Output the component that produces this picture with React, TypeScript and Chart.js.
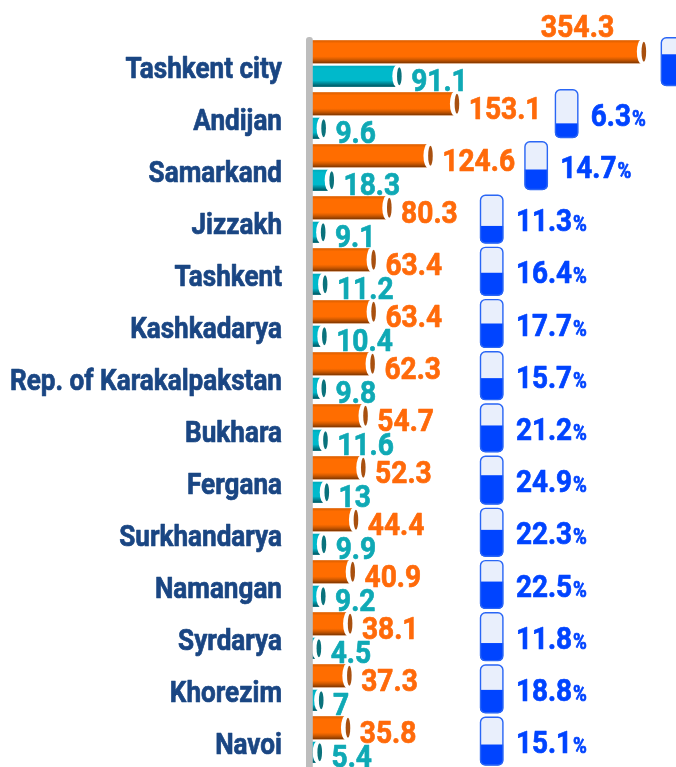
import React, { useEffect, useRef } from "react";
import { Chart, registerables } from "chart.js";

Chart.register(...registerables);

const regions = ["Tashkent city", "Andijan", "Samarkand", "Jizzakh", "Tashkent", "Kashkadarya", "Rep. of Karakalpakstan", "Bukhara", "Fergana", "Surkhandarya", "Namangan", "Syrdarya", "Khorezim", "Navoi"];
const orangeValues = [354.3, 153.1, 124.6, 80.3, 63.4, 63.4, 62.3, 54.7, 52.3, 44.4, 40.9, 38.1, 37.3, 35.8];
const tealValues = [91.1, 9.6, 18.3, 9.1, 11.2, 10.4, 9.8, 11.6, 13, 9.9, 9.2, 4.5, 7, 5.4];
const percentValues: (number | null)[] = [null, 6.3, 14.7, 11.3, 16.4, 17.7, 15.7, 21.2, 24.9, 22.3, 22.5, 11.8, 18.8, 15.1];
const batteryLevels = [0.65, 0.3, 0.42, 0.36, 0.47, 0.5, 0.45, 0.55, 0.6, 0.55, 0.56, 0.37, 0.48, 0.43];

const ORANGE = "#ff6d00";
const TEAL = "#00b9cb";
const ORANGE_TEXT = "#ff6a0a";
const TEAL_TEXT = "#0fa9b5";
const BLUE = "#0044ff";
const NAVY = "#1a4683";
const FONT = "Roboto";

function squeezed(ctx: CanvasRenderingContext2D, text: string, x: number, y: number, size: number, sx: number, align: "left" | "right" | "center", color: string) {
  ctx.save();
  ctx.font = `700 ${size}px ${FONT}`;
  ctx.fillStyle = color;
  ctx.strokeStyle = color;
  ctx.lineWidth = 0.7;
  ctx.lineJoin = "round";
  ctx.textBaseline = "alphabetic";
  ctx.textAlign = align;
  ctx.translate(x, y);
  ctx.scale(sx, 1);
  ctx.fillText(text, 0, 0);
  ctx.strokeText(text, 0, 0);
  const w = ctx.measureText(text).width * sx;
  ctx.restore();
  return w;
}

function ellipse(ctx: CanvasRenderingContext2D, x: number, y: number, rx: number, ry: number, color: string) {
  ctx.beginPath();
  ctx.ellipse(x, y, rx, ry, 0, 0, Math.PI * 2);
  ctx.fillStyle = color;
  ctx.fill();
}

const decorate = {
  id: "decorate",
  afterDatasetsDraw(chart: any) {
    const ctx: CanvasRenderingContext2D = chart.ctx;
    const { chartArea } = chart;
    const styles = [
      { cap: "#a8500f", top: "rgba(170,75,0,0.45)", bottom: "rgba(105,45,0,0.9)", text: ORANGE_TEXT },
      { cap: "#0a727c", top: "rgba(0,120,130,0.2)", bottom: "rgba(0,70,80,0.9)", text: TEAL_TEXT },
    ];
    [0, 1].forEach((d) => {
      const st = styles[d];
      chart.getDatasetMeta(d).data.forEach((bar: any, i: number) => {
        const h = bar.height;
        const top = bar.y - h / 2;
        const grad = ctx.createLinearGradient(0, top, 0, top + h);
        const clear = d === 0 ? "rgba(170,75,0,0)" : "rgba(0,70,80,0)";
        grad.addColorStop(0, st.top);
        grad.addColorStop(0.14, clear);
        grad.addColorStop(0.7, clear);
        grad.addColorStop(1, st.bottom);
        ctx.fillStyle = grad;
        ctx.fillRect(chartArea.left, top, bar.x - chartArea.left, h);
        ellipse(ctx, bar.x + 1, bar.y, 5, h / 2 + 1, "#ffffff");
        ellipse(ctx, bar.x + 3, bar.y, 2.3, h / 2 - 1.5, st.cap);
        const value = (d === 0 ? orangeValues : tealValues)[i];
        const cap = bar.x + 3;
        if (d === 0 && i === 0) {
          squeezed(ctx, String(value), 577.5, 36.5, 32, 0.89, "center", st.text);
        } else {
          squeezed(ctx, String(value), cap + 11.8, bar.y + 15, 32, 0.88, "left", st.text);
        }
      });
    });

    ctx.fillStyle = "#bdbdbd";
    ctx.beginPath();
    ctx.roundRect(306, 37, 6.8, 740, [3, 3, 0, 0]);
    ctx.fill();

    const rows = chart.getDatasetMeta(0).data;
    const gaps: Record<number, number> = { 0: 17, 1: 98, 2: 94 };
    regions.forEach((name, i) => {
      const bar = rows[i];
      const center = (bar.y + chart.getDatasetMeta(1).data[i].y) / 2;
      squeezed(ctx, name, 282, center + 13.5, 30, 0.87, "right", NAVY);

      const cap = bar.x + 3;
      const bx = gaps[i] !== undefined ? cap + gaps[i] : 480;
      const by = center + (i < 3 ? -26.8 : -25.3 + (i - 3) * 0.2);
      const bw = 23.4;
      const bh = 48.8;
      ctx.beginPath();
      ctx.roundRect(bx, by, bw, bh, 5);
      ctx.fillStyle = "#e9effc";
      ctx.fill();
      ctx.save();
      ctx.clip();
      ctx.fillStyle = BLUE;
      ctx.fillRect(bx, by + bh * (1 - batteryLevels[i]), bw, bh * batteryLevels[i]);
      ctx.restore();
      ctx.beginPath();
      ctx.roundRect(bx + 0.5, by + 0.5, bw - 1, bh - 1, 5);
      ctx.lineWidth = 1.4;
      ctx.strokeStyle = "#2a66f5";
      ctx.stroke();

      const p = percentValues[i];
      if (p !== null) {
        const tx = bx + bw + 12.5;
        const w = squeezed(ctx, String(p), tx, by + 36.5, 31, 0.9, "left", BLUE);
        squeezed(ctx, "%", tx + w + 1, by + 36.5, 22, 0.85, "left", BLUE);
      }
    });
  },
};

export default function App() {
  const ref = useRef<HTMLCanvasElement>(null);
  useEffect(() => {
    const chart = new Chart(ref.current!, {
      type: "bar",
      data: {
        labels: regions,
        datasets: [
          { data: orangeValues, backgroundColor: ORANGE, categoryPercentage: 0.94, barPercentage: 0.94 },
          { data: tealValues, backgroundColor: TEAL, categoryPercentage: 0.94, barPercentage: 0.86 },
        ],
      },
      options: {
        indexAxis: "y",
        responsive: false,
        animation: false,
        layout: { padding: { left: 311.7, top: 38, bottom: 1, right: 0 } },
        plugins: { legend: { display: false }, tooltip: { enabled: false } },
        scales: {
          x: { display: false, min: 0, max: 392.15 },
          y: { display: false },
        },
      } as any,
      plugins: [decorate],
    });
    return () => chart.destroy();
  }, []);
  return <canvas ref={ref} width={676} height={767} style={{ position: "absolute", left: 0, top: 0 }} />;
}
